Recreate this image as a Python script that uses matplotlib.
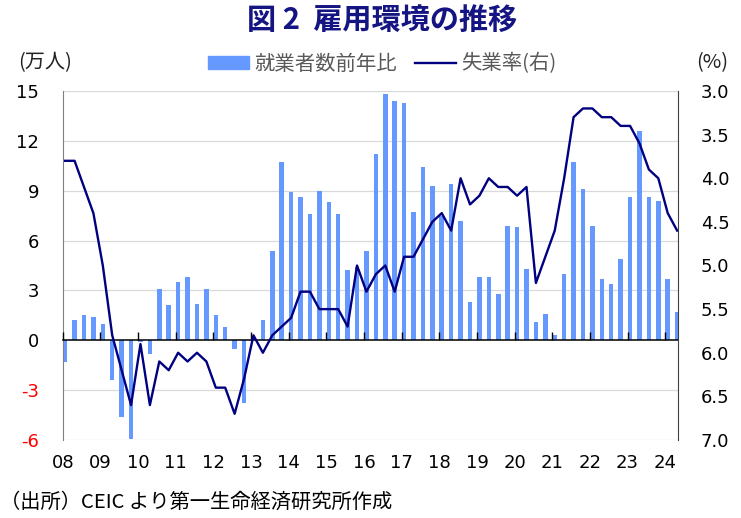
import matplotlib
matplotlib.use("Agg")
import matplotlib.pyplot as plt
from matplotlib.patches import Patch
from matplotlib.lines import Line2D
import numpy as np

plt.rcParams['font.family'] = ['DejaVu Sans', 'Noto Sans CJK JP']
CJK = ['Noto Sans CJK JP', 'DejaVu Sans']

# ---- data (quarterly, 2008Q1 - 2024Q2) ----
start_year = 2008
emp_change = [-1.3, 1.2, 1.5, 1.4, 1.0, -2.4, -4.6, -5.95, -0.1, -0.8,
              3.1, 2.1, 3.5, 3.8, 2.2, 3.1, 1.5, 0.8, -0.5, -3.8,
              0.1, 1.2, 5.4, 10.7, 8.9, 8.6, 7.6, 9.0, 8.3, 7.6,
              4.2, 4.4, 5.4, 11.2, 14.8, 14.4, 14.3, 7.7, 10.4, 9.3,
              7.5, 9.4, 7.2, 2.3, 3.8, 3.8, 2.8, 6.9, 6.8, 4.3,
              1.1, 1.6, 0.3, 4.0, 10.7, 9.1, 6.9, 3.7, 3.4, 4.9,
              8.6, 12.6, 8.6, 8.4, 3.7, 1.7]
unemp_rate = [3.8, 3.8, 4.1, 4.4, 5.0, 5.8, 6.2, 6.6, 5.9, 6.6,
              6.1, 6.2, 6.0, 6.1, 6.0, 6.1, 6.4, 6.4, 6.7, 6.3,
              5.8, 6.0, 5.8, 5.7, 5.6, 5.3, 5.3, 5.5, 5.5, 5.5,
              5.7, 5.0, 5.3, 5.1, 5.0, 5.3, 4.9, 4.9, 4.7, 4.5,
              4.4, 4.6, 4.0, 4.3, 4.2, 4.0, 4.1, 4.1, 4.2, 4.1,
              5.2, 4.9, 4.6, 4.0, 3.3, 3.2, 3.2, 3.3, 3.3, 3.4,
              3.4, 3.6, 3.9, 4.0, 4.4, 4.6]
year_ticks = list(range(2008, 2025))
year_labels = [f"{y % 100:02d}" for y in year_ticks]
left_ticks = [-6, -3, 0, 3, 6, 9, 12, 15]
right_ticks = [3.0, 3.5, 4.0, 4.5, 5.0, 5.5, 6.0, 6.5, 7.0]

title = "図 2  雇用環境の推移"
bar_label = "就業者数前年比"
line_label = "失業率(右)"
source = "（出所）CEIC より第一生命経済研究所作成"

# ---- styling ----
bar_color = '#6699FF'
line_color = '#000080'

x = start_year + np.arange(len(emp_change)) * 0.25 + 0.065

fig = plt.figure(figsize=(7.41, 5.18), dpi=100)
ax = fig.add_axes([62.7/741, 1 - 440/518, (677.7-62.7)/741, (440-91)/518])

for t in left_ticks:
    if t != 0:
        ax.axhline(t, color='#D9D9D9', lw=0.9, zorder=0.5)
ax.bar(x, emp_change, width=0.12, color=bar_color, zorder=1)
ax.set_xlim(2008.0, 2024.33)
ax.set_ylim(-6, 15)
ax.set_yticks(left_ticks)
ax.set_yticklabels([str(t) for t in left_ticks], fontsize=13)
for lab, t in zip(ax.get_yticklabels(), left_ticks):
    lab.set_color('#FF0000' if t < 0 else 'black')
ax.tick_params(axis='y', length=0, pad=17)
ax.set_axisbelow(False)

ax.spines['top'].set_visible(False)
ax.spines['right'].set_visible(False)
ax.spines['left'].set_color('#808080')
ax.spines['bottom'].set_position(('data', 0))
ax.spines['bottom'].set_color('black')
ax.spines['bottom'].set_linewidth(1.1)
ax.set_xticks(year_ticks)
ax.tick_params(axis='x', direction='in', length=5.5, width=1, labelbottom=False)

sec = ax.secondary_xaxis('bottom')
sec.set_xticks(year_ticks)
sec.set_xticklabels(year_labels, fontsize=13)
sec.tick_params(length=0, pad=10)
sec.spines['bottom'].set_visible(False)

ax2 = ax.twinx()
ax2.plot(x, unemp_rate, color=line_color, lw=1.7, zorder=4)
ax2.set_ylim(7.0, 3.0)
ax2.set_yticks(right_ticks)
ax2.set_yticklabels([f"{t:.1f}" for t in right_ticks], fontsize=13)
ax2.tick_params(axis='y', length=0, pad=16.5)
for s in ['top', 'bottom', 'left']:
    ax2.spines[s].set_visible(False)
ax2.spines['right'].set_color('#404040')

fig.text(382/741, 1 - 20/518, title, family=CJK, fontsize=21, fontweight='bold',
         color='#141482', ha='center', va='center')
fig.text(45/741, 1 - 63/518, "(万人)", family=CJK, fontsize=14.5, color='#222222',
         ha='center', va='center')
fig.text(712/741, 1 - 63/518, "(%)", family=CJK, fontsize=14.5, color='#222222',
         ha='center', va='center')
fig.text(0/741, 1 - 502/518, source, family=CJK, fontsize=14.6, color='black',
         ha='left', va='center')

handles = [Patch(color=bar_color), Line2D([0], [0], color=line_color, lw=1.7)]
fig.legend(handles, [bar_label, line_label], loc='center',
           bbox_to_anchor=(382/741, 1 - 64/518), ncol=2, frameon=False,
           prop={'family': CJK, 'size': 14.7}, labelcolor='#595959',
           handlelength=2.0, handleheight=0.65, handletextpad=0.25,
           columnspacing=0.9)

fig.savefig("out.png", dpi=100)
